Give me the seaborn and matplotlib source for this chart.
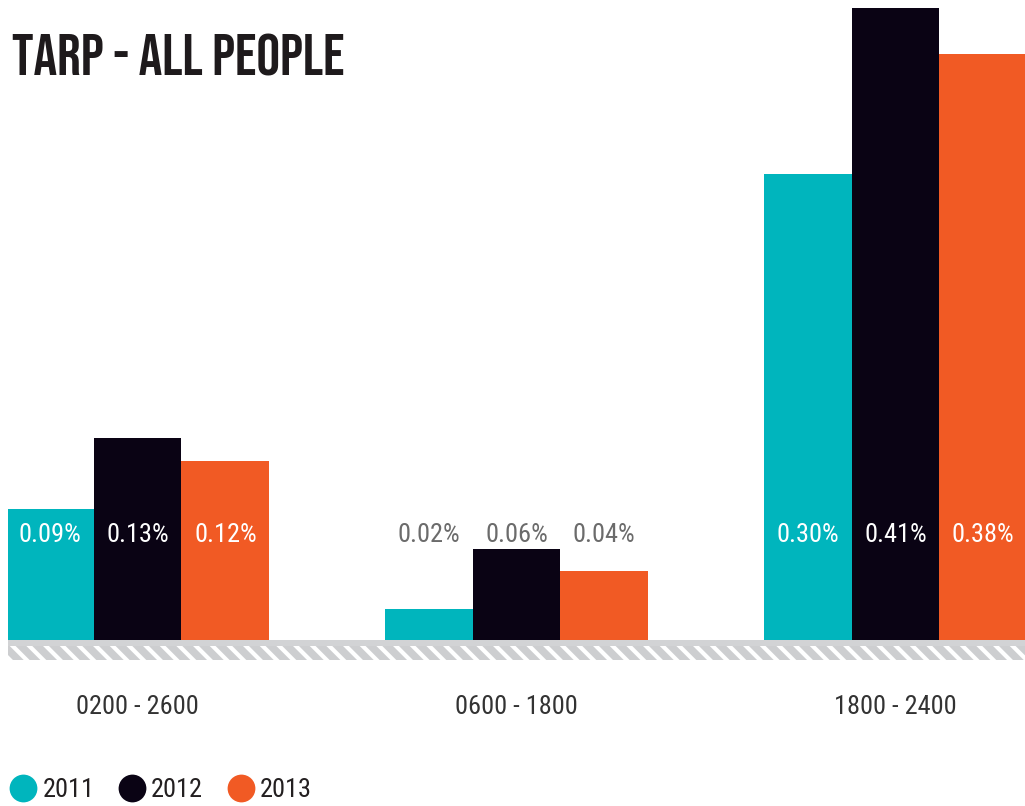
import matplotlib
matplotlib.use("Agg")
import matplotlib.pyplot as plt
from matplotlib.patches import Rectangle
from matplotlib.lines import Line2D
import seaborn as sns
import pandas as pd

# ---- data ----
categories = ["0200 - 2600", "0600 - 1800", "1800 - 2400"]
years = ["2011", "2012", "2013"]
values_2011 = [0.085, 0.020, 0.302]
values_2012 = [0.131, 0.059, 0.410]
values_2013 = [0.116, 0.045, 0.380]
labels_2011 = ["0.09%", "0.02%", "0.30%"]
labels_2012 = ["0.13%", "0.06%", "0.41%"]
labels_2013 = ["0.12%", "0.04%", "0.38%"]
colors = ["#00B5BD", "#0A0314", "#F15A24"]
title = "TARP - ALL PEOPLE"

rows = []
for yr, vals in zip(years, [values_2011, values_2012, values_2013]):
    for c, v in zip(categories, vals):
        rows.append({"cat": c, "year": yr, "value": v})
df = pd.DataFrame(rows)
label_map = {"2011": labels_2011, "2012": labels_2012, "2013": labels_2013}

sns.set_theme(style="white")
body = ["Roboto Condensed", "DejaVu Sans"]
head = ["Bebas Neue", "DejaVu Sans"]
plt.rcParams["font.family"] = body
plt.rcParams["hatch.linewidth"] = 3.0
plt.rcParams["hatch.color"] = "white"

W, H = 1025, 806
FS = 19
fig = plt.figure(figsize=(W / 100, H / 100), dpi=100)
ax_left, ax_right = 8 / W, 1.0
ax_bottom = 1 - 640 / H
ax = fig.add_axes([ax_left, ax_bottom, ax_right - ax_left, 1 - ax_bottom])

sns.barplot(data=df, x="cat", y="value", hue="year", order=categories,
            hue_order=years, palette=colors, width=0.695, saturation=1,
            ax=ax, legend=False, edgecolor="none", linewidth=0)

ax.set_xlim(-0.342, 2.342)
ax.set_ylim(0, 0.4152)
ax.axis("off")

# value labels
for container, yr in zip(ax.containers, years):
    for i, bar in enumerate(container):
        cx = bar.get_x() + bar.get_width() / 2
        col = "white" if i != 1 else "#6b6b6b"
        ax.text(cx, 0.068, label_map[yr][i], ha="center", va="center",
                fontsize=FS, color=col, family=body)

# baseline strip
fig.patches.append(Rectangle((ax_left, 1 - 646 / H), 1 - ax_left, 6 / H,
                             transform=fig.transFigure, facecolor="#D2D3D5",
                             edgecolor="none", zorder=1))
fig.patches.append(Rectangle((ax_left, 1 - 660 / H), 1 - ax_left, 14 / H,
                             transform=fig.transFigure, facecolor="#CDCED0",
                             edgecolor="white", linewidth=0, hatch="\\\\",
                             zorder=1))

# category labels
for i, c in enumerate(categories):
    x_fig = ax.transData.transform((i, 0))[0] / W
    fig.text(x_fig, 1 - 707 / H, c, ha="center", va="center",
             fontsize=FS, color="#333333", family=body)

# title
fig.text(12 / W, 1 - 75 / H, title, ha="left", va="baseline",
         fontsize=42.5, color="#1E1A1C", family=head)

# legend
handles = [Line2D([0], [0], marker="o", linestyle="none", markersize=20,
                  markerfacecolor=c, markeredgecolor="none") for c in colors]
leg = fig.legend(handles, years, loc="center left",
                 bbox_to_anchor=(8 / W, 1 - 790 / H), ncol=3, frameon=False,
                 handletextpad=0.15, columnspacing=0.85, handlelength=1.15,
                 borderaxespad=0, borderpad=0,
                 prop={"family": body, "size": FS})
for t in leg.get_texts():
    t.set_color("#231F20")

fig.savefig("out.png", dpi=100)
